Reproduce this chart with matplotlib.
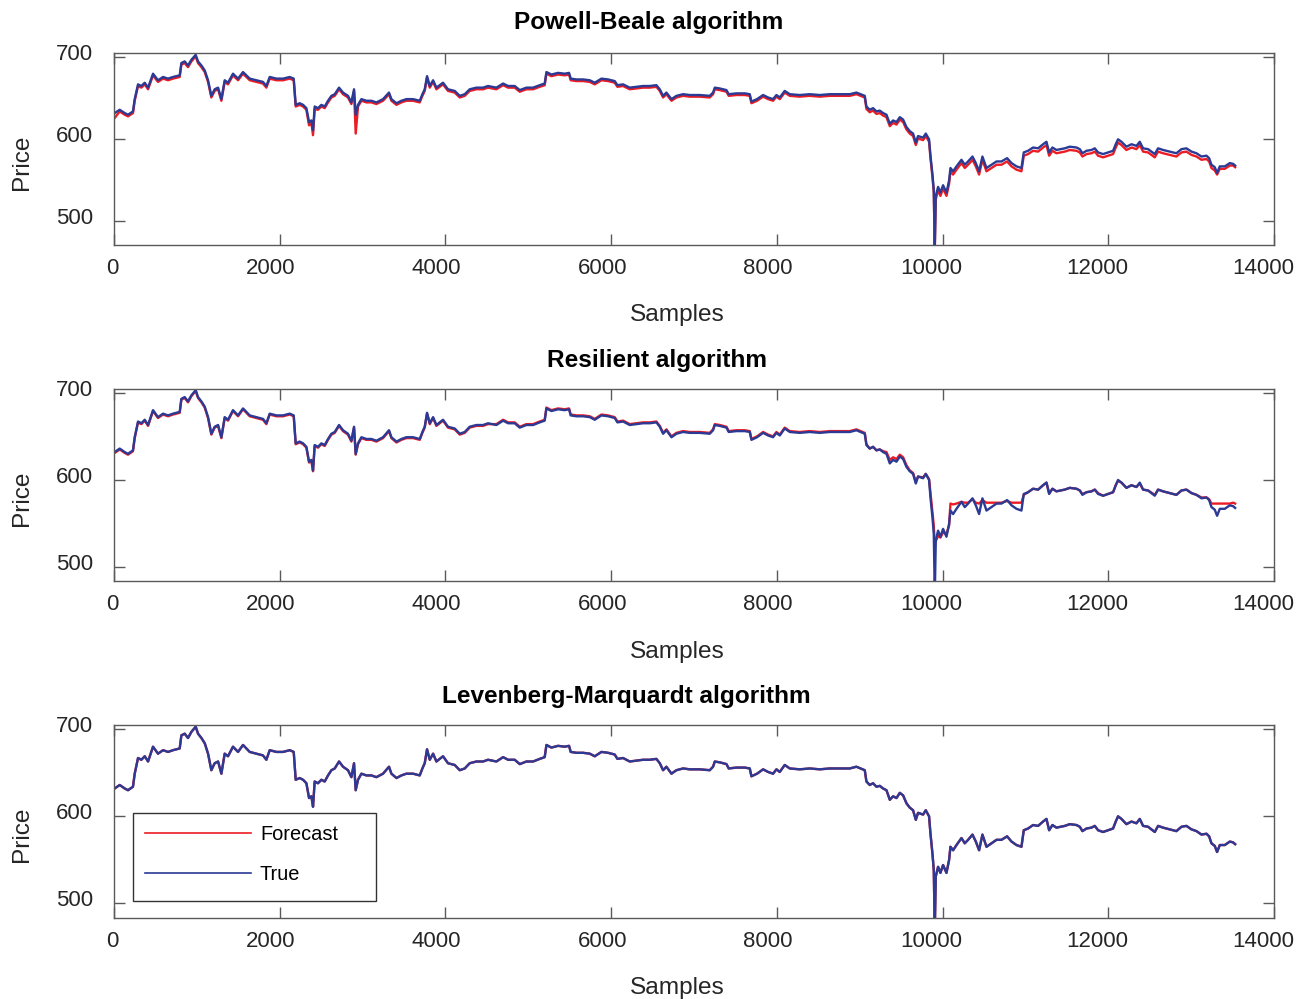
import matplotlib
matplotlib.use("Agg")
import matplotlib.pyplot as plt
from matplotlib.transforms import ScaledTranslation
from matplotlib.patches import Rectangle

plt.rcParams['font.family'] = ['Liberation Sans', 'DejaVu Sans']

#data (sample index, price)
sample_idx = [
    8, 69, 129, 169, 229, 250, 290, 330, 371, 411, 471, 531, 592, 652, 712, 793, 813, 853, 893, 934,
    986, 1014, 1055, 1095, 1135, 1175, 1215, 1256, 1296, 1336, 1376, 1436, 1497, 1557, 1638, 1718, 1798, 1839, 1879, 1960,
    2040, 2121, 2169, 2193,
    2241, 2282, 2322, 2354, 2382, 2402, 2422, 2462, 2503, 2543, 2583, 2624, 2664, 2716, 2764, 2824, 2865, 2897, 2917, 2945,
    2986, 3046, 3107, 3167, 3247, 3319, 3348, 3409, 3469, 3529, 3609, 3690, 3722, 3750, 3778, 3811, 3851, 3891, 3971, 4031,
    4112, 4173, 4233, 4293, 4374, 4454, 4514,
    4615, 4696, 4756, 4836, 4897, 4977, 5058, 5138, 5198, 5219, 5279, 5359, 5440, 5492, 5512, 5581, 5661, 5742, 5802, 5883,
    5963, 6043, 6076, 6144, 6224, 6305, 6385, 6466, 6546, 6587, 6627, 6667, 6728, 6788,
    6868, 6949, 7069, 7190, 7230, 7251, 7311, 7392, 7419, 7512, 7613, 7673, 7693, 7761, 7834, 7894, 7954, 7995, 8035, 8095,
    8156, 8276, 8397, 8518, 8638, 8759, 8880, 8960, 9061, 9081,
    9121, 9161, 9202, 9242, 9282, 9323, 9363, 9403, 9444, 9484, 9524, 9564, 9604, 9644, 9677, 9704, 9765, 9797, 9837, 9854,
    9878, 9894, 9906, 9918, 9946, 9974, 10006, 10047, 10079, 10095, 10127, 10168, 10228, 10268, 10308, 10361, 10401, 10441, 10481, 10530,
    10590, 10651, 10711, 10779, 10832, 10892, 10952, 10980, 11032, 11092, 11153, 11213, 11254, 11286, 11326, 11374,
    11475, 11535, 11616, 11656, 11688, 11737, 11797, 11837, 11877, 11937, 11998, 12058, 12090, 12118, 12159, 12219, 12280, 12340, 12380, 12420,
    12480, 12561, 12601, 12661, 12742, 12822, 12883, 12943, 13004, 13064, 13125, 13185, 13217, 13245, 13285, 13313, 13346, 13406, 13467, 13507,
    13531,
]

true_price = [
    632, 636, 632, 630, 634, 649, 667, 665, 669, 663, 680, 672, 676, 674, 676, 678, 693, 695, 690, 697,
    703, 695, 690, 684, 672, 653, 661, 663, 649, 672, 669, 680, 674, 682, 674, 672, 670, 665, 676, 674,
    674, 676, 674, 642,
    644, 642, 638, 621, 623, 611, 640, 638, 642, 640, 647, 653, 655, 663, 657, 653, 645, 661, 630, 642,
    649, 647, 647, 645, 649, 657, 649, 644, 647, 649, 649, 647, 655, 661, 677, 665, 672, 663, 669, 661,
    659, 653, 655, 661, 663, 663, 665,
    663, 668, 665, 665, 660, 663, 663, 666, 668, 682, 679, 681, 680, 681, 674, 673, 673, 672, 669, 674,
    673, 671, 666, 667, 663, 664, 665, 665, 666, 661, 653, 657, 649, 653,
    655, 654, 654, 653, 657, 663, 662, 660, 655, 656, 656, 655, 646, 649, 654, 651, 649, 654, 651, 659,
    655, 654, 655, 654, 655, 655, 655, 657, 653, 640,
    636, 638, 634, 635, 632, 630, 619, 623, 621, 627, 624, 615, 610, 607, 596, 604, 602, 607, 600, 580,
    557, 538, 468, 531, 542, 535, 544, 535, 550, 565, 561, 567, 575, 569, 573, 579, 571, 561, 579, 565,
    569, 573, 573, 577, 571, 567, 565, 584, 586, 590, 589, 594, 597, 584, 590, 587,
    589, 591, 590, 588, 583, 586, 587, 589, 584, 582, 584, 586, 594, 600, 597, 591, 594, 592, 597, 589,
    588, 582, 589, 587, 585, 583, 588, 589, 585, 583, 579, 580, 577, 569, 566, 559, 567, 567, 571, 570,
    568,
]

forecast_pb = [
    626, 634, 630, 628, 632, 647, 665, 663, 667, 661, 678, 670, 674, 672, 674, 676, 691, 693, 688, 695,
    701, 693, 688, 682, 670, 651, 659, 661, 647, 670, 667, 678, 672, 680, 672, 670, 668, 663, 674, 672,
    672, 674, 672, 640,
    642, 640, 636, 617, 620, 605, 637, 636, 640, 638, 645, 651, 653, 661, 655, 651, 643, 659, 607, 640,
    647, 645, 645, 643, 647, 655, 647, 642, 645, 647, 647, 645, 653, 659, 675, 663, 670, 661, 667, 659,
    657, 651, 653, 659, 661, 661, 663,
    661, 666, 663, 663, 658, 661, 661, 664, 666, 680, 677, 679, 678, 679, 672, 671, 671, 670, 667, 672,
    671, 669, 664, 665, 661, 662, 663, 663, 664, 659, 651, 655, 647, 651,
    653, 652, 652, 651, 655, 661, 660, 658, 653, 654, 654, 653, 644, 647, 652, 649, 647, 652, 649, 657,
    653, 652, 653, 652, 653, 653, 653, 655, 651, 637,
    633, 635, 631, 632, 629, 627, 616, 620, 618, 624, 621, 612, 607, 604, 593, 601, 599, 604, 597, 577,
    554, 535, 465, 527, 538, 531, 540, 531, 546, 561, 557, 563, 571, 565, 569, 575, 567, 557, 575, 561,
    565, 569, 569, 573, 567, 563, 561, 580, 582, 586, 585, 590, 593, 580, 586, 583,
    585, 587, 586, 584, 579, 582, 583, 585, 580, 578, 580, 582, 590, 596, 593, 587, 590, 588, 593, 585,
    584, 578, 585, 583, 581, 579, 584, 585, 581, 579, 575, 576, 573, 565, 562, 557, 564, 564, 568, 568,
    566,
]

forecast_rp = [
    631, 635, 631, 629, 633, 648, 666, 664, 668, 662, 679, 671, 675, 673, 675, 677, 692, 694, 689, 696,
    702, 694, 689, 683, 671, 652, 660, 662, 648, 671, 668, 679, 673, 681, 673, 671, 669, 664, 675, 673,
    673, 675, 673, 641,
    643, 641, 637, 620, 622, 610, 639, 637, 641, 639, 646, 652, 654, 662, 656, 652, 644, 660, 629, 641,
    648, 646, 646, 644, 648, 656, 648, 643, 646, 648, 648, 646, 654, 660, 676, 664, 671, 662, 668, 660,
    658, 652, 654, 660, 662, 662, 664,
    664, 669, 666, 666, 661, 664, 664, 667, 669, 683, 680, 682, 681, 682, 675, 674, 674, 673, 670, 675,
    674, 672, 667, 668, 664, 665, 666, 666, 667, 662, 654, 658, 650, 654,
    656, 655, 655, 654, 658, 664, 663, 661, 656, 657, 657, 656, 647, 650, 655, 652, 650, 655, 652, 660,
    656, 655, 656, 655, 656, 656, 656, 658, 654, 641,
    636, 638, 634, 635, 633, 632, 623, 626, 624, 629, 626, 617, 611, 608, 598, 604, 603, 607, 601, 585,
    562, 548, 524, 530, 536, 534, 540, 538, 548, 573, 572, 573, 575, 574, 574, 578, 574, 573, 577, 574,
    574, 574, 574, 576, 574, 574, 574, 583, 586, 590, 589, 594, 597, 585, 590, 587,
    589, 591, 590, 588, 584, 586, 587, 589, 585, 582, 584, 586, 594, 599, 597, 591, 594, 592, 596, 589,
    588, 583, 589, 587, 585, 583, 588, 589, 585, 583, 580, 580, 578, 573, 573, 573, 573, 573, 573, 574,
    573,
]

# the LM forecast sits on the true line everywhere in the picture
forecast_lm = list(true_price)

titles = ["Powell-Beale algorithm", "Resilient algorithm", "Levenberg-Marquardt algorithm"]
forecasts = [forecast_pb, forecast_rp, forecast_lm]
ylims = [(471.5, 705.6), (484.3, 703.9), (483.5, 704.6)]
x_ticks = [0, 2000, 4000, 6000, 8000, 10000, 12000, 14000]
y_ticks = [500, 600, 700]

#graphics settings
W, H = 1306, 999
red = '#ec1c24'
blue = '#2b3a94'
axc = '#5a5a5a'
txtc = '#262626'

fig = plt.figure(figsize=(W / 100, H / 100), dpi=100)

# panel boxes in pixels (top, bottom)
boxes = [(52.7, 244.7), (389.3, 581.0), (725.3, 917.7)]
title_pos = [(649, 23), (657, 360), (626, 696)]
ylabel_y = [162, 498, 834]
xlabel_y = [315, 652, 988]

def shift(dx, dy):
    return ScaledTranslation(dx / 100, dy / 100, fig.dpi_scale_trans)

axes = []
for k in range(3):
    top, bot = boxes[k]
    ax = fig.add_axes([114 / W, 1 - bot / H, 1160 / W, (bot - top) / H])
    lf, = ax.plot(sample_idx, forecasts[k], color=red, lw=1.7, label='Forecast')
    lt, = ax.plot(sample_idx, true_price, color=blue, lw=1.7, label='True')
    ax.set_xlim(0, 14000)
    ax.set_ylim(*ylims[k])
    ax.set_xticks(x_ticks)
    ax.set_xticklabels([str(t) for t in x_ticks])
    ax.set_yticks(y_ticks)
    ax.set_yticklabels([str(t) for t in y_ticks])
    ax.tick_params(direction='in', top=True, right=True, length=8, width=1.0,
                   color=axc, labelsize=16, labelcolor=txtc)
    ax.tick_params(axis='y', pad=15)
    ax.tick_params(axis='x', pad=9.5)
    for s in ax.spines.values():
        s.set_color(axc)
        s.set_linewidth(1.0)
    for lab in ax.get_xticklabels():
        n = len(lab.get_text())
        lab.set_transform(lab.get_transform() + shift(-0.176 * n * 12.35, 0))
    for lab in ax.get_yticklabels():
        lab.set_transform(lab.get_transform() + shift(0, 5))

    tx, ty = title_pos[k]
    fig.text(tx / W, 1 - ty / H, titles[k], ha='center', va='center',
             fontsize=17.6, fontweight='bold', color='black')
    fig.text(677 / W, 1 - xlabel_y[k] / H, "Samples", ha='center', va='center',
             fontsize=17.6, color=txtc)
    fig.text(22 / W, 1 - ylabel_y[k] / H, "Price", ha='center', va='center',
             rotation=90, fontsize=17.6, color=txtc)
    axes.append(ax)

# legend box on the last panel
ax = axes[2]
ax.add_patch(Rectangle((19 / 1160, 0.0868), 243 / 1160, 0.4574, transform=ax.transAxes,
                       facecolor='white', edgecolor='#333333', lw=1.0, zorder=4.5))
leg = ax.legend(loc='upper left', bbox_to_anchor=(19 / 1160, 0.5442), borderaxespad=0,
                frameon=False, fontsize=14.4, handlelength=5.3, handletextpad=0.45,
                borderpad=0.6, labelspacing=1.05)
for h in leg.get_lines():
    h.set_linewidth(1.2)

plt.savefig('out.png', dpi=100)
